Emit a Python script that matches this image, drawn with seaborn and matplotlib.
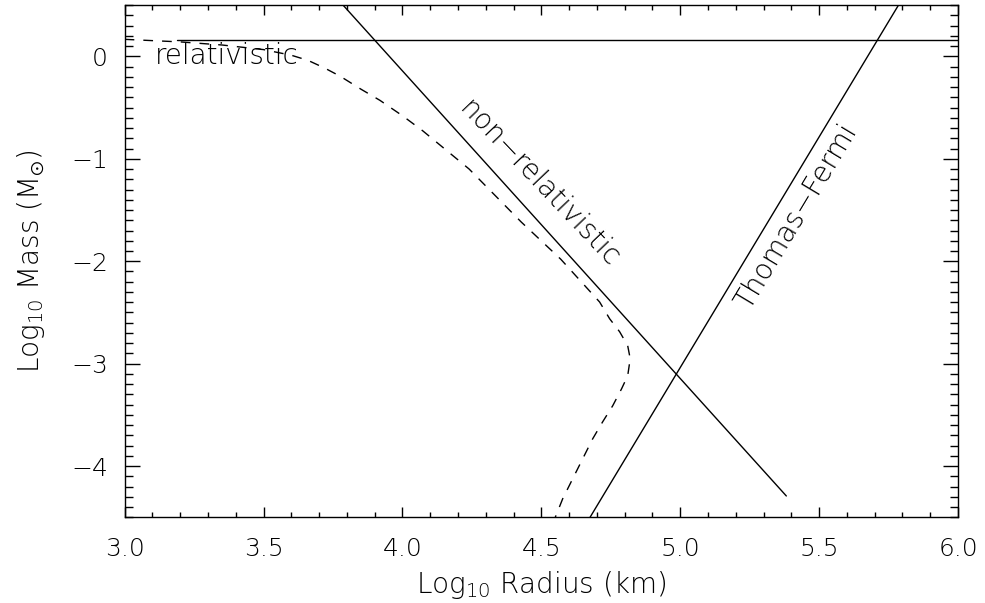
import numpy as np
import pandas as pd
import matplotlib
matplotlib.use("Agg")
import matplotlib.pyplot as plt
from matplotlib.ticker import MultipleLocator, FormatStrFormatter
import seaborn as sns

# relativistic (dashed) mass-radius relation
rel_radius = [3.00, 3.20, 3.35, 3.50, 3.60, 3.66, 3.72, 3.776, 3.85, 3.919, 4.00, 4.073,
              4.24, 4.428, 4.57, 4.710, 4.746, 4.782, 4.811, 4.820, 4.811, 4.789,
              4.757, 4.721, 4.685, 4.649, 4.613, 4.577, 4.550]
rel_mass = [0.165, 0.14, 0.11, 0.065, 0.01, -0.04, -0.115, -0.195, -0.32, -0.43, -0.58, -0.727,
            -1.10, -1.618, -1.98, -2.398, -2.561, -2.688, -2.824, -2.951, -3.117, -3.244,
            -3.410, -3.566, -3.732, -3.927, -4.122, -4.317, -4.50]
# non-relativistic limit
nonrel_radius = [3.786, 5.382]
nonrel_mass = [0.5, -4.29]
# Thomas-Fermi
tf_radius = [4.675, 5.786]
tf_mass = [-4.5, 0.5]
# Chandrasekhar mass (horizontal)
ch_radius = [3.19, 6.0]
ch_mass = [0.163, 0.163]

x_ticks = [3.0, 3.5, 4.0, 4.5, 5.0, 5.5, 6.0]
y_ticks = [-4, -3, -2, -1, 0]

sns.set_theme(style="ticks")
plt.rcParams['font.family'] = ['DejaVu Sans']
plt.rcParams['font.weight'] = 'light'
plt.rcParams['mathtext.fontset'] = 'dejavusans'
plt.rcParams['axes.edgecolor'] = 'black'
plt.rcParams['axes.linewidth'] = 1.0
plt.rcParams['text.color'] = 'black'
plt.rcParams['axes.labelcolor'] = 'black'
plt.rcParams['xtick.color'] = 'black'
plt.rcParams['ytick.color'] = 'black'

fig = plt.figure(figsize=(9.85, 6.03), dpi=100)
ax = fig.add_axes([0.1265, 0.1418, 0.8461, 0.8499])

rel_df = pd.DataFrame({"r": rel_radius, "m": rel_mass})
sns.lineplot(data=rel_df, x="r", y="m", sort=False, estimator=None, ax=ax,
             color='black', lw=1.0, linestyle=(0, (7, 6.5)))
for xs, ys in [(nonrel_radius, nonrel_mass), (tf_radius, tf_mass), (ch_radius, ch_mass)]:
    sns.lineplot(x=xs, y=ys, sort=False, estimator=None, ax=ax, color='black', lw=1.0)

ax.set_xlim(3.0, 6.0)
ax.set_ylim(-4.5, 0.5)
ax.set_xticks(x_ticks)
ax.set_yticks(y_ticks)
ax.xaxis.set_major_formatter(FormatStrFormatter('%.1f'))
ax.xaxis.set_minor_locator(MultipleLocator(0.1))
ax.yaxis.set_minor_locator(MultipleLocator(0.1))

ax.tick_params(axis='x', which='major', direction='in', length=7, width=1, top=True,
               pad=14, labelsize=18)
ax.tick_params(axis='x', which='minor', direction='in', length=3.6, width=1, top=True)
ax.tick_params(axis='y', which='major', direction='in', length=10.8, width=1, right=True,
               pad=12, labelsize=18)
ax.tick_params(axis='y', which='minor', direction='in', length=5.8, width=1, right=True)
for lab in ax.get_xticklabels() + ax.get_yticklabels():
    lab.set_fontweight('light')

ax.set_xlabel(r'Log$_{10}$ Radius (km)', fontsize=20, labelpad=6, fontweight='light')
ax.set_ylabel(r'Log$_{10}$ Mass (M$_{\odot}$)', fontsize=20, labelpad=17, fontweight='light')

ax.text(3.11, 0.0, 'relativistic', fontsize=20, ha='left', va='center', fontweight='light')
ax.text(4.494, -1.244, 'non\u2212relativistic', fontsize=20, ha='center', va='center',
        rotation=-46.4, rotation_mode='anchor', fontweight='light')
ax.text(5.419, -1.566, 'Thomas\u2212Fermi', fontsize=20, ha='center', va='center',
        rotation=59, rotation_mode='anchor', fontweight='light')

fig.savefig('out.png', dpi=100, facecolor='white')
